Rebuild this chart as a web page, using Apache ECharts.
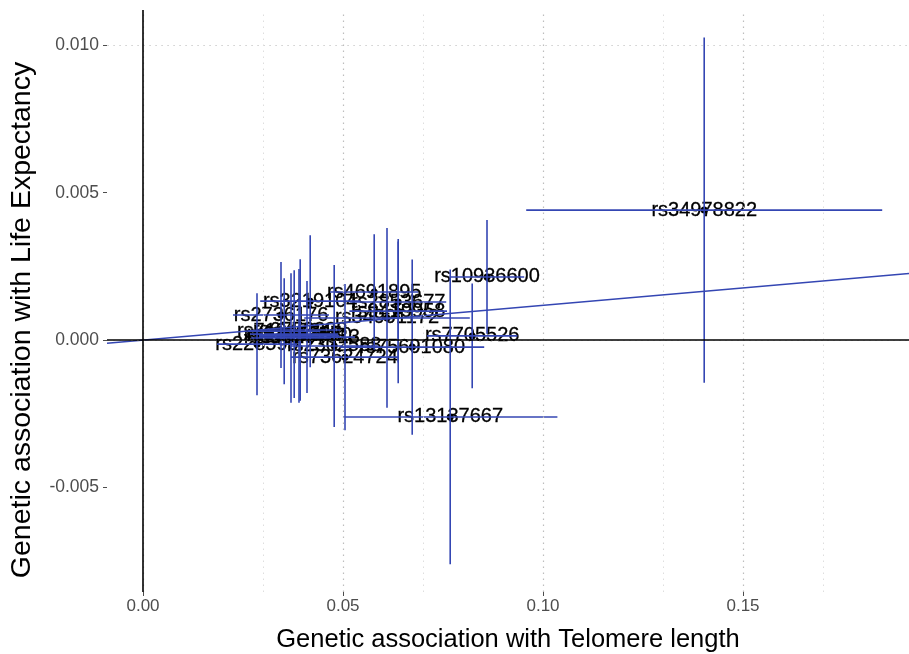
<!DOCTYPE html>
<html><head><meta charset="utf-8">
<script src="https://cdn.jsdelivr.net/npm/echarts@6/dist/echarts.min.js"></script>
<style>html,body{margin:0;padding:0;background:#fff}#c{width:909px;height:654px}</style>
</head><body><div id="c"></div>
<script>
// ---- data ----
const snps = ["rs34978822","rs10936600","rs7705526","rs13137667","rs4691895","rs75691080","rs73624724",
  "rs3219104","rs2853677","rs9419958","rs34991172","rs2736176","rs62053580","rs228595","rs2302588",
  "rs7194734","rs3785074","rs8105767","rs59294613","rs6772228"];
const bx = [0.1403,0.0860,0.0823,0.0768,0.0578,0.0673,0.0505,
  0.0418,0.0638,0.0638,0.0610,0.0345,0.0390,0.0285,0.0478,
  0.0353,0.0370,0.0378,0.0410,0.0393];
const by = [0.00441,0.00214,0.00014,-0.00261,0.00163,-0.00024,-0.00058,
  0.00132,0.00129,0.00098,0.00075,0.00085,0.00014,-0.00014,-0.00020,
  0.00030,0.00007,0.00020,0.00010,0.00034];
const bxErr = [0.0445,0.0093,0.0113,0.0268,0.0110,0.0180,0.0135,
  0.0125,0.0120,0.0122,0.0207,0.0120,0.0100,0.0100,0.0110,
  0.0090,0.0100,0.0110,0.0120,0.0100];
const byErr = [0.00586,0.00193,0.00178,0.00500,0.00196,0.00297,0.00248,
  0.00224,0.00205,0.00245,0.00305,0.00180,0.00227,0.00173,0.00275,
  0.00180,0.00220,0.00217,0.00190,0.00240];
const ivwSlope = 0.0118;
const xTicks = [0, 0.05, 0.10, 0.15];
const xMinor = [0.025, 0.075, 0.125, 0.175];
const yTicks = [-0.005, 0, 0.005, 0.010];
const yMinor = [-0.0075, -0.0025, 0.0025, 0.0075];
const xRange = [-0.009, 0.1915];
const yRange = [-0.00855, 0.0112];
const xTitle = "Genetic association with Telomere length";
const yTitle = "Genetic association with Life Expectancy";

// ---- styles ----
const FONT = "'Liberation Sans', Arial, Helvetica, sans-serif";
const BLUE = "#3446B3";
const TICKCOL = "#4d4d4d";

const chart = echarts.init(document.getElementById('c'), null, {renderer: 'canvas'});

const gridLines = [];
xTicks.forEach(v => gridLines.push({xAxis: v, lineStyle: {color: '#bdbdbd', width: 1.2, type: [1.5, 4.5]}}));
xMinor.forEach(v => gridLines.push({xAxis: v, lineStyle: {color: '#dedede', width: 1, type: [1.5, 4.5]}}));
yTicks.forEach(v => gridLines.push({yAxis: v, lineStyle: {color: '#bdbdbd', width: 1.2, type: [1.5, 4.5]}}));
yMinor.forEach(v => gridLines.push({yAxis: v, lineStyle: {color: '#dedede', width: 1, type: [1.5, 4.5]}}));

const pts = bx.map((x, i) => [x, by[i], bxErr[i], byErr[i]]);

chart.setOption({
  animation: false,
  backgroundColor: '#fff',
  grid: {left: 107, right: 0, top: 10, bottom: 62, containLabel: false, outerBoundsMode: 'none'},
  xAxis: {
    type: 'value', min: xRange[0], max: xRange[1],
    splitLine: {show: false}, axisLine: {show: false, onZero: false},
    axisTick: {show: true, customValues: xTicks, length: 4, lineStyle: {color: TICKCOL, width: 1}},
    axisLabel: {customValues: xTicks, formatter: v => Number(v).toFixed(2), fontSize: 17, color: TICKCOL, fontFamily: FONT, margin: 6},
    name: xTitle, nameLocation: 'middle', nameGap: 35,
    nameTextStyle: {fontSize: 25.5, color: '#000', fontFamily: FONT}
  },
  yAxis: {
    type: 'value', min: yRange[0], max: yRange[1],
    splitLine: {show: false}, axisLine: {show: false, onZero: false},
    axisTick: {show: true, customValues: yTicks, length: 4, lineStyle: {color: TICKCOL, width: 1}},
    axisLabel: {customValues: yTicks, formatter: v => Number(v).toFixed(3), fontSize: 17.5, color: TICKCOL, fontFamily: FONT, margin: 8},
    name: yTitle, nameLocation: 'middle', nameGap: 70,
    nameTextStyle: {fontSize: 28.5, color: '#000', fontFamily: FONT, padding: [0, 38, 0, 0]}
  },
  series: [
    { // grid lines
      type: 'line', data: [], z: 0, silent: true,
      markLine: {silent: true, symbol: ['none', 'none'], label: {show: false}, data: gridLines, animation: false}
    },
    { // zero lines
      type: 'line', data: [], z: 1, silent: true,
      markLine: {silent: true, symbol: ['none', 'none'], label: {show: false}, animation: false,
        lineStyle: {color: '#000', width: 1.6, type: 'solid'},
        data: [{xAxis: 0}, {yAxis: 0}]}
    },
    { // points + labels
      type: 'scatter', z: 2, symbol: 'circle', symbolSize: 7,
      itemStyle: {color: '#000', opacity: 1},
      data: pts.map(p => [p[0], p[1]]),
      label: {show: true, position: 'inside', formatter: p => snps[p.dataIndex], opacity: 1,
        fontSize: 20, color: '#000', fontFamily: FONT, textBorderColor: '#000', textBorderWidth: 0.3},
      labelLayout: {hideOverlap: false}
    },
    { // error bars
      type: 'custom', z: 3, silent: true,
      data: pts,
      encode: {x: 0, y: 1},
      renderItem: function (params, api) {
        const x = api.value(0), y = api.value(1), ex = api.value(2), ey = api.value(3);
        const h1 = api.coord([x - ex, y]), h2 = api.coord([x + ex, y]);
        const v1 = api.coord([x, y - ey]), v2 = api.coord([x, y + ey]);
        const style = {stroke: BLUE, lineWidth: 1.6};
        return {type: 'group', children: [
          {type: 'line', shape: {x1: h1[0], y1: h1[1], x2: h2[0], y2: h2[1]}, style: style},
          {type: 'line', shape: {x1: v1[0], y1: v1[1], x2: v2[0], y2: v2[1]}, style: style}
        ]};
      }
    },
    { // IVW estimate line through the origin
      type: 'line', z: 3, symbol: 'none', silent: true,
      lineStyle: {color: BLUE, width: 1.6},
      data: [[xRange[0], ivwSlope * xRange[0]], [xRange[1], ivwSlope * xRange[1]]]
    }
  ]
});
</script>
</body></html>
